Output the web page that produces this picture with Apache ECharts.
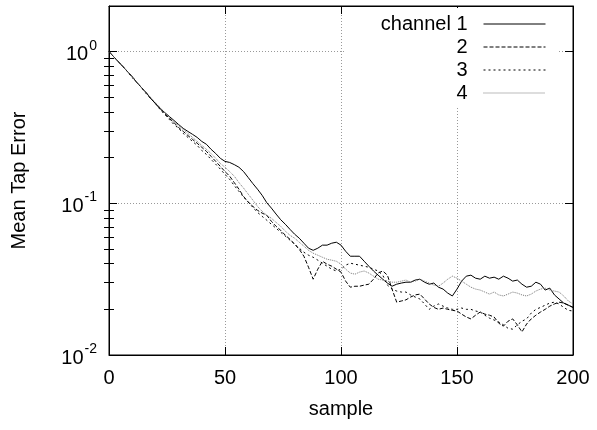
<!DOCTYPE html>
<html>
<head>
<meta charset="utf-8">
<script src="https://cdn.jsdelivr.net/npm/echarts@6/dist/echarts.min.js"></script>
<style>
  html, body { margin: 0; padding: 0; background: #fff; }
  #chart { width: 597px; height: 430px; }
</style>
</head>
<body>
<div id="chart"></div>
<script>
  // sample index (x)
  var samples = [0, 2, 4, 6, 8, 10, 12, 14, 16, 18, 20, 22, 24, 26, 28, 30, 32, 34, 36, 38,
    40, 42, 44, 46, 48, 50, 52, 54, 56, 58, 60, 62, 64, 66, 68, 70, 72, 74, 76, 78,
    80, 82, 84, 86, 88, 90, 92, 94, 96, 98, 100, 102, 104, 106, 108, 110, 112, 114, 116, 118,
    120, 122, 124, 126, 128, 130, 132, 134, 136, 138, 140, 142, 144, 146, 148, 150, 152, 154, 156, 158,
    160, 162, 164, 166, 168, 170, 172, 174, 176, 178, 180, 182, 184, 186, 188, 190, 192, 194, 196, 198, 200];

  // mean tap error per channel
  var channel1 = [1.000, 0.927, 0.860, 0.797, 0.738, 0.685, 0.626, 0.580, 0.537, 0.491,
    0.455, 0.422, 0.397, 0.374, 0.352, 0.331, 0.312, 0.298, 0.285, 0.272,
    0.256, 0.245, 0.227, 0.213, 0.198, 0.189, 0.186, 0.180, 0.173, 0.162,
    0.148, 0.135, 0.124, 0.113, 0.101, 0.093, 0.085, 0.078, 0.0728, 0.0674,
    0.0626, 0.0589, 0.0546, 0.0506, 0.0490, 0.0506, 0.0530, 0.0530, 0.0546, 0.0554,
    0.0530, 0.0483, 0.0448, 0.0448, 0.0448, 0.0415, 0.0385, 0.0358, 0.0336, 0.0316,
    0.0298, 0.0284, 0.0293, 0.0298, 0.0302, 0.0302, 0.0312, 0.0316, 0.0302, 0.0293,
    0.0298, 0.0280, 0.0272, 0.0256, 0.0245, 0.0272, 0.0307, 0.0331, 0.0336, 0.0321,
    0.0316, 0.0331, 0.0321, 0.0326, 0.0316, 0.0331, 0.0321, 0.0307, 0.0312, 0.0293,
    0.0280, 0.0284, 0.0302, 0.0293, 0.0268, 0.0276, 0.0249, 0.0234, 0.0220, 0.0213,
    0.0206];
  var channel2 = [1.000, 0.927, 0.860, 0.797, 0.738, 0.685, 0.626, 0.580, 0.537, 0.491,
    0.455, 0.422, 0.391, 0.363, 0.341, 0.316, 0.298, 0.280, 0.264, 0.249,
    0.234, 0.220, 0.204, 0.189, 0.175, 0.162, 0.151, 0.137, 0.124, 0.111,
    0.102, 0.0955, 0.0900, 0.0862, 0.0834, 0.0761, 0.0706, 0.0664, 0.0616, 0.0580,
    0.0538, 0.0498, 0.0448, 0.0379, 0.0316, 0.0368, 0.0415, 0.0397, 0.0385, 0.0368,
    0.0352, 0.0307, 0.0280, 0.0284, 0.0284, 0.0289, 0.0293, 0.0316, 0.0347, 0.0358,
    0.0336, 0.0272, 0.0223, 0.0227, 0.0231, 0.0241, 0.0249, 0.0252, 0.0234, 0.0217,
    0.0206, 0.0200, 0.0204, 0.0200, 0.0197, 0.0195, 0.0186, 0.0178, 0.0173, 0.0183,
    0.0192, 0.0186, 0.0183, 0.0178, 0.0162, 0.0155, 0.0167, 0.0173, 0.0158, 0.0142,
    0.0160, 0.0173, 0.0183, 0.0192, 0.0200, 0.0210, 0.0217, 0.0223, 0.0220, 0.0213,
    0.0206];
  var channel3 = [1.000, 0.927, 0.860, 0.797, 0.738, 0.674, 0.626, 0.580, 0.529, 0.491,
    0.455, 0.416, 0.385, 0.357, 0.331, 0.312, 0.289, 0.272, 0.256, 0.241,
    0.223, 0.210, 0.195, 0.181, 0.168, 0.155, 0.144, 0.131, 0.120, 0.110,
    0.102, 0.0941, 0.0872, 0.0821, 0.0774, 0.0728, 0.0685, 0.0645, 0.0607, 0.0572,
    0.0538, 0.0506, 0.0476, 0.0455, 0.0441, 0.0422, 0.0403, 0.0385, 0.0368, 0.0358,
    0.0368, 0.0391, 0.0403, 0.0397, 0.0391, 0.0385, 0.0379, 0.0368, 0.0358, 0.0336,
    0.0289, 0.0272, 0.0264, 0.0260, 0.0260, 0.0249, 0.0241, 0.0234, 0.0217, 0.0200,
    0.0210, 0.0217, 0.0210, 0.0204, 0.0200, 0.0200, 0.0204, 0.0200, 0.0200, 0.0195,
    0.0192, 0.0183, 0.0175, 0.0170, 0.0165, 0.0158, 0.0150, 0.0148, 0.0158, 0.0167,
    0.0173, 0.0189, 0.0200, 0.0206, 0.0213, 0.0220, 0.0223, 0.0217, 0.0206, 0.0197,
    0.0195];
  var channel4 = [1.000, 0.927, 0.860, 0.797, 0.738, 0.685, 0.626, 0.580, 0.537, 0.498,
    0.462, 0.428, 0.397, 0.368, 0.346, 0.326, 0.307, 0.289, 0.272, 0.256,
    0.241, 0.227, 0.213, 0.198, 0.183, 0.173, 0.162, 0.151, 0.137, 0.126,
    0.115, 0.105, 0.0955, 0.0886, 0.0834, 0.0797, 0.0749, 0.0706, 0.0655, 0.0616,
    0.0589, 0.0554, 0.0522, 0.0490, 0.0469, 0.0455, 0.0441, 0.0428, 0.0422, 0.0415,
    0.0397, 0.0368, 0.0347, 0.0341, 0.0352, 0.0358, 0.0347, 0.0331, 0.0316, 0.0312,
    0.0307, 0.0302, 0.0302, 0.0307, 0.0312, 0.0302, 0.0307, 0.0316, 0.0307, 0.0298,
    0.0289, 0.0284, 0.0298, 0.0316, 0.0331, 0.0321, 0.0307, 0.0293, 0.0280, 0.0272,
    0.0268, 0.0260, 0.0252, 0.0260, 0.0249, 0.0245, 0.0252, 0.0260, 0.0256, 0.0249,
    0.0245, 0.0252, 0.0264, 0.0272, 0.0276, 0.0268, 0.0264, 0.0260, 0.0245, 0.0227,
    0.0217];

  var seriesNames = ['channel 1', '2', '3', '4'];
  // minor tick positions on the log axis (2..9 in each decade)
  var yMinorTicks = [0.02, 0.03, 0.04, 0.05, 0.06, 0.07, 0.08, 0.09,
    0.2, 0.3, 0.4, 0.5, 0.6, 0.7, 0.8, 0.9];

  var font = 'Liberation Sans, Arial, Helvetica, sans-serif';
  var yMin = 0.01, yMax = 2;

  function pairs (ys) {
    return samples.map(function (s, i) { return [s, ys[i]] })
  }

  var chart = echarts.init(document.getElementById('chart'))

  var gridLine = { show: true, lineStyle: { color: '#999', width: 1, type: [1, 2] } }

  // main log axes (left with labels, right mirror)
  function logAxis (pos, showLabel) {
    return {
      type: 'log',
      logBase: 10,
      position: pos,
      min: yMin,
      max: yMax,
      interval: 1,
      axisLine: { show: true, onZero: false, lineStyle: { color: '#000', width: 1 } },
      axisTick: { show: true, inside: true, length: 8, lineStyle: { color: '#000' } },
      axisLabel: showLabel ? {
        show: true,
        showMaxLabel: false,
        margin: 12,
        color: '#000',
        fontFamily: font,
        fontSize: 20,
        formatter: function (v) {
          return '{b|10}{s|' + Math.round(Math.log10(v)) + '}'
        },
        rich: {
          b: { fontSize: 20, fontFamily: font, color: '#000', lineHeight: 26, verticalAlign: 'bottom' },
          s: { fontSize: 14, fontFamily: font, color: '#000', lineHeight: 26, verticalAlign: 'top', padding: [0, 0, 0, 1] }
        }
      } : { show: false },
      splitLine: showLabel ? gridLine : { show: false },
      name: showLabel ? 'Mean Tap Error' : '',
      nameLocation: 'middle',
      nameGap: 80,
      nameTextStyle: { fontFamily: font, fontSize: 20, color: '#000' }
    }
  }

  // helper axes in log10 space, only for the minor ticks
  function minorAxis (pos) {
    return {
      type: 'value',
      position: pos,
      min: Math.log10(yMin),
      max: Math.log10(yMax),
      axisLine: { show: false },
      axisTick: {
        show: true, inside: true, length: 5,
        customValues: yMinorTicks.map(function (v) { return Math.log10(v) }),
        lineStyle: { color: '#000' }
      },
      axisLabel: { show: false },
      splitLine: { show: false }
    }
  }

  var option = {
    animation: false,
    backgroundColor: '#fff',
    grid: { left: 109, right: 24, top: 6, bottom: 75, show: true, borderColor: '#000', borderWidth: 1, backgroundColor: 'transparent' },
    legend: {
      orient: 'vertical',
      right: 39,
      top: 8,
      padding: [6, 12, 3, 16],
      align: 'right',
      itemWidth: 62,
      itemHeight: 14,
      itemGap: 3,
      backgroundColor: '#fff',
      itemStyle: { opacity: 0 },
      lineStyle: { width: 1 },
      data: seriesNames,
      formatter: function (name) { return '{a|' + name + '}{g|}' },
      textStyle: {
        fontFamily: font,
        fontSize: 20,
        color: '#000',
        rich: {
          a: { width: 107, align: 'right', fontSize: 20, lineHeight: 20, fontFamily: font, color: '#000' },
          g: { width: 11 }
        }
      }
    },
    xAxis: [{
      type: 'value',
      position: 'bottom',
      min: 0,
      max: 200,
      interval: 50,
      axisLine: { show: true, onZero: false, lineStyle: { color: '#000' } },
      axisTick: { show: true, inside: true, length: 8, lineStyle: { color: '#000' } },
      axisLabel: { margin: 13, color: '#000', fontFamily: font, fontSize: 20 },
      splitLine: gridLine,
      name: 'sample',
      nameLocation: 'middle',
      nameGap: 44,
      nameTextStyle: { fontFamily: font, fontSize: 20, color: '#000' }
    }, {
      type: 'value',
      position: 'top',
      min: 0,
      max: 200,
      interval: 50,
      axisLine: { show: true, onZero: false, lineStyle: { color: '#000' } },
      axisTick: { show: true, inside: true, length: 8, lineStyle: { color: '#000' } },
      axisLabel: { show: false },
      splitLine: { show: false }
    }],
    yAxis: [
      logAxis('left', true),
      logAxis('right', false),
      minorAxis('left'),
      minorAxis('right')
    ],
    series: [
      {
        name: seriesNames[0], type: 'line', symbol: 'none', data: pairs(channel1),
        itemStyle: { color: '#000' },
        lineStyle: { color: '#000', width: 1, type: 'solid' }
      },
      {
        name: seriesNames[1], type: 'line', symbol: 'none', data: pairs(channel2),
        itemStyle: { color: '#000' },
        lineStyle: { color: '#000', width: 1, type: [4, 2] }
      },
      {
        name: seriesNames[2], type: 'line', symbol: 'none', data: pairs(channel3),
        itemStyle: { color: '#000' },
        lineStyle: { color: '#000', width: 1, type: [2, 3] }
      },
      {
        name: seriesNames[3], type: 'line', symbol: 'none', data: pairs(channel4),
        itemStyle: { color: '#777' },
        lineStyle: { color: '#777', width: 1, type: [1, 1] }
      }
    ]
  }

  chart.setOption(option)
</script>
</body>
</html>
